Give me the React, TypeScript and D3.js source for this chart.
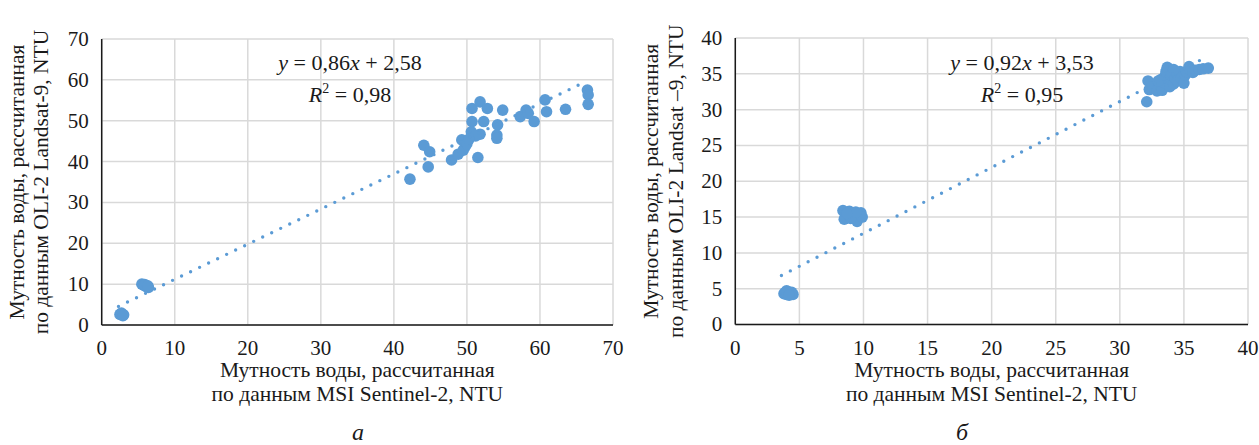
import { useEffect } from "react";
import * as d3 from "d3";

// panel а: MSI Sentinel-2 (x) vs OLI-2 Landsat-9 (y), NTU
const leftX = [
  2.5, 2.9, 2.7, 3.0, 5.5, 5.8, 6.1, 6.4, 5.9, 6.3,
  42.2, 44.1, 44.9, 44.7, 47.9, 48.8, 49.3, 49.8, 49.5, 50.0,
  50.7, 50.7, 50.6, 51.5, 51.8, 52.3, 52.8, 51.8, 54.2, 54.1,
  54.1, 54.9, 57.3, 58.1, 58.4, 59.2, 60.7, 60.9, 63.5, 66.5,
  66.6, 66.6, 51.2, 50.3,
];
const leftY = [
  2.6, 2.3, 2.9, 2.5, 10.0, 9.7, 9.4, 9.2, 9.9, 9.6,
  35.7, 44.0, 42.4, 38.7, 40.4, 41.8, 45.3, 43.8, 42.8, 44.4,
  53.0, 49.8, 47.3, 41.0, 54.6, 49.8, 53.0, 46.7, 49.0, 46.5,
  45.7, 52.6, 51.0, 52.6, 51.8, 49.8, 55.1, 52.2, 52.8, 57.5,
  56.3, 54.0, 46.3, 45.5,
];

// panel б
const rightX = [
  3.8, 3.9, 4.0, 4.1, 4.2, 4.3, 4.4, 4.5, 4.0, 4.2,
  8.4, 8.6, 8.5, 8.9, 9.1, 9.3, 9.5, 9.6, 9.8, 9.9, 9.0, 9.4, 8.7,
  32.1, 32.2, 32.3, 32.5, 32.9, 33.1, 33.2, 33.3, 33.4, 33.5,
  33.6, 33.7, 33.8, 33.9, 34.0, 34.1, 34.2, 34.3, 34.4, 34.5,
  34.6, 34.7, 34.8, 34.9, 35.0, 35.1, 35.2, 35.4, 35.5, 35.7,
  35.9, 36.2, 36.5, 36.9, 33.0, 34.2,
];
const rightY = [
  4.3, 4.5, 4.2, 4.6, 4.4, 4.3, 4.5, 4.2, 4.7, 4.1,
  15.9, 15.2, 14.7, 15.8, 15.5, 15.0, 14.4, 15.3, 15.6, 15.0, 14.8, 15.7, 15.5,
  31.1, 34.0, 32.8, 33.2, 32.6, 33.5, 34.2, 32.7, 33.8, 34.6,
  35.3, 35.9, 34.1, 33.2, 34.8, 35.0, 33.6, 34.4, 35.2, 34.0,
  34.7, 35.3, 34.3, 35.0, 33.7, 34.8, 35.3, 36.0, 35.4, 35.2,
  35.5, 35.6, 35.7, 35.8, 34.0, 35.6,
];

const leftTicks = [0, 10, 20, 30, 40, 50, 60, 70];
const rightTicks = [0, 5, 10, 15, 20, 25, 30, 35, 40];

const xTitle = ["Мутность воды, рассчитанная", "по данным MSI Sentinel-2, NTU"];
const leftYTitle = ["Мутность воды, рассчитанная", "по данным OLI-2 Landsat-9, NTU"];
const rightYTitle = ["Мутность воды, рассчитанная", "по данным OLI-2 Landsat –9, NTU"];

const BLUE = "#5B9BD5";
const FONT = "Liberation Serif";
const INK = "#1a1a1a";

type PanelProps = {
  xs: number[];
  ys: number[];
  ticks: number[];
  max: number;
  slope: number;
  intercept: number;
  slopeText: string;
  interceptText: string;
  r2Text: string;
  xRange: [number, number];
  yRange: [number, number];
  yTitle: string[];
  yTitleX: [number, number];
  eqX: number;
  letter: string;
  letterX: number;
};

function Panel(p: PanelProps) {
  const x = d3.scaleLinear().domain([0, p.max]).range(p.xRange);
  const y = d3.scaleLinear().domain([0, p.max]).range(p.yRange);
  const pts = p.xs.map((v, i) => [v, p.ys[i]] as [number, number]);
  const [x0, x1] = d3.extent(p.xs) as [number, number];
  const trend = d3
    .line<number>()
    .x((d) => x(d))
    .y((d) => y(p.slope * d + p.intercept))([x0 - 0.2, x1 - 0.3]);
  const midX = (p.xRange[0] + p.xRange[1]) / 2;
  const midY = (p.yRange[0] + p.yRange[1]) / 2;

  return (
    <g>
      {/* grid */}
      {p.ticks.map((t) => (
        <line key={"gx" + t} x1={x(t)} x2={x(t)} y1={y(0)} y2={y(p.max)} stroke="#d9d9d9" strokeWidth={1.5} />
      ))}
      {p.ticks.map((t) => (
        <line key={"gy" + t} x1={x(0)} x2={x(p.max)} y1={y(t)} y2={y(t)} stroke="#d9d9d9" strokeWidth={1.5} />
      ))}
      {/* axes */}
      <line x1={x(0)} x2={x(0)} y1={y(0)} y2={y(p.max)} stroke={INK} strokeWidth={1.5} />
      <line x1={x(0)} x2={x(p.max)} y1={y(0)} y2={y(0)} stroke={INK} strokeWidth={1.5} />
      {p.ticks.map((t) => (
        <text key={"ty" + t} x={x(0) - 13} y={y(t)} dy="0.33em" textAnchor="end" fontSize={21} fontFamily={FONT} fill={INK}>
          {t}
        </text>
      ))}
      {p.ticks.map((t) => (
        <text key={"tx" + t} x={x(t)} y={y(0) + 30} textAnchor="middle" fontSize={21} fontFamily={FONT} fill={INK}>
          {t}
        </text>
      ))}
      {/* points */}
      {pts.map((d, i) => (
        <circle key={i} cx={x(d[0])} cy={y(d[1])} r={5.8} fill={BLUE} />
      ))}
      {/* linear trend */}
      <path
        d={trend || ""}
        fill="none"
        stroke={BLUE}
        strokeWidth={3.4}
        strokeLinecap="round"
        strokeDasharray="0 10"
      />
      {/* equation */}
      <text x={p.eqX} y={70} textAnchor="middle" fontSize={22} fontFamily={FONT} fill={INK}>
        <tspan fontStyle="italic">y</tspan> = {p.slopeText}
        <tspan fontStyle="italic">x</tspan> + {p.interceptText}
      </text>
      <text x={p.eqX} y={102} textAnchor="middle" fontSize={22} fontFamily={FONT} fill={INK}>
        <tspan fontStyle="italic">R</tspan>
        <tspan fontSize={14} dy={-9}>2</tspan>
        <tspan dy={9}> = {p.r2Text}</tspan>
      </text>
      {/* axis titles */}
      {xTitle.map((s, i) => (
        <text key={"xt" + i} x={midX} y={377 + i * 24} textAnchor="middle" fontSize={21.5} fontFamily={FONT} fill={INK}>
          {s}
        </text>
      ))}
      {p.yTitle.map((s, i) => (
        <text
          key={"yt" + i}
          transform={`translate(${p.yTitleX[i]},${midY}) rotate(-90)`}
          textAnchor="middle"
          fontSize={21.5}
          fontFamily={FONT}
          fill={INK}
        >
          {s}
        </text>
      ))}
      <text x={p.letterX} y={440} textAnchor="middle" fontSize={24} fontStyle="italic" fontFamily={FONT} fill={INK}>
        {p.letter}
      </text>
    </g>
  );
}

export default function App() {
  useEffect(() => {
    document.body.style.margin = "0";
  }, []);

  return (
    <svg width={1259} height={445} style={{ display: "block", background: "#fff" }}>
      <Panel
        xs={leftX}
        ys={leftY}
        ticks={leftTicks}
        max={70}
        slope={0.86}
        intercept={2.58}
        slopeText="0,86"
        interceptText="2,58"
        r2Text="0,98"
        xRange={[101.7, 613]}
        yRange={[325, 39]}
        yTitle={leftYTitle}
        yTitleX={[24, 48]}
        eqX={350}
        letter="а"
        letterX={358}
      />
      <Panel
        xs={rightX}
        ys={rightY}
        ticks={rightTicks}
        max={40}
        slope={0.92}
        intercept={3.53}
        slopeText="0,92"
        interceptText="3,53"
        r2Text="0,95"
        xRange={[735.3, 1248]}
        yRange={[324.5, 38]}
        yTitle={rightYTitle}
        yTitleX={[658, 683]}
        eqX={1022}
        letter="б"
        letterX={962}
      />
    </svg>
  );
}
